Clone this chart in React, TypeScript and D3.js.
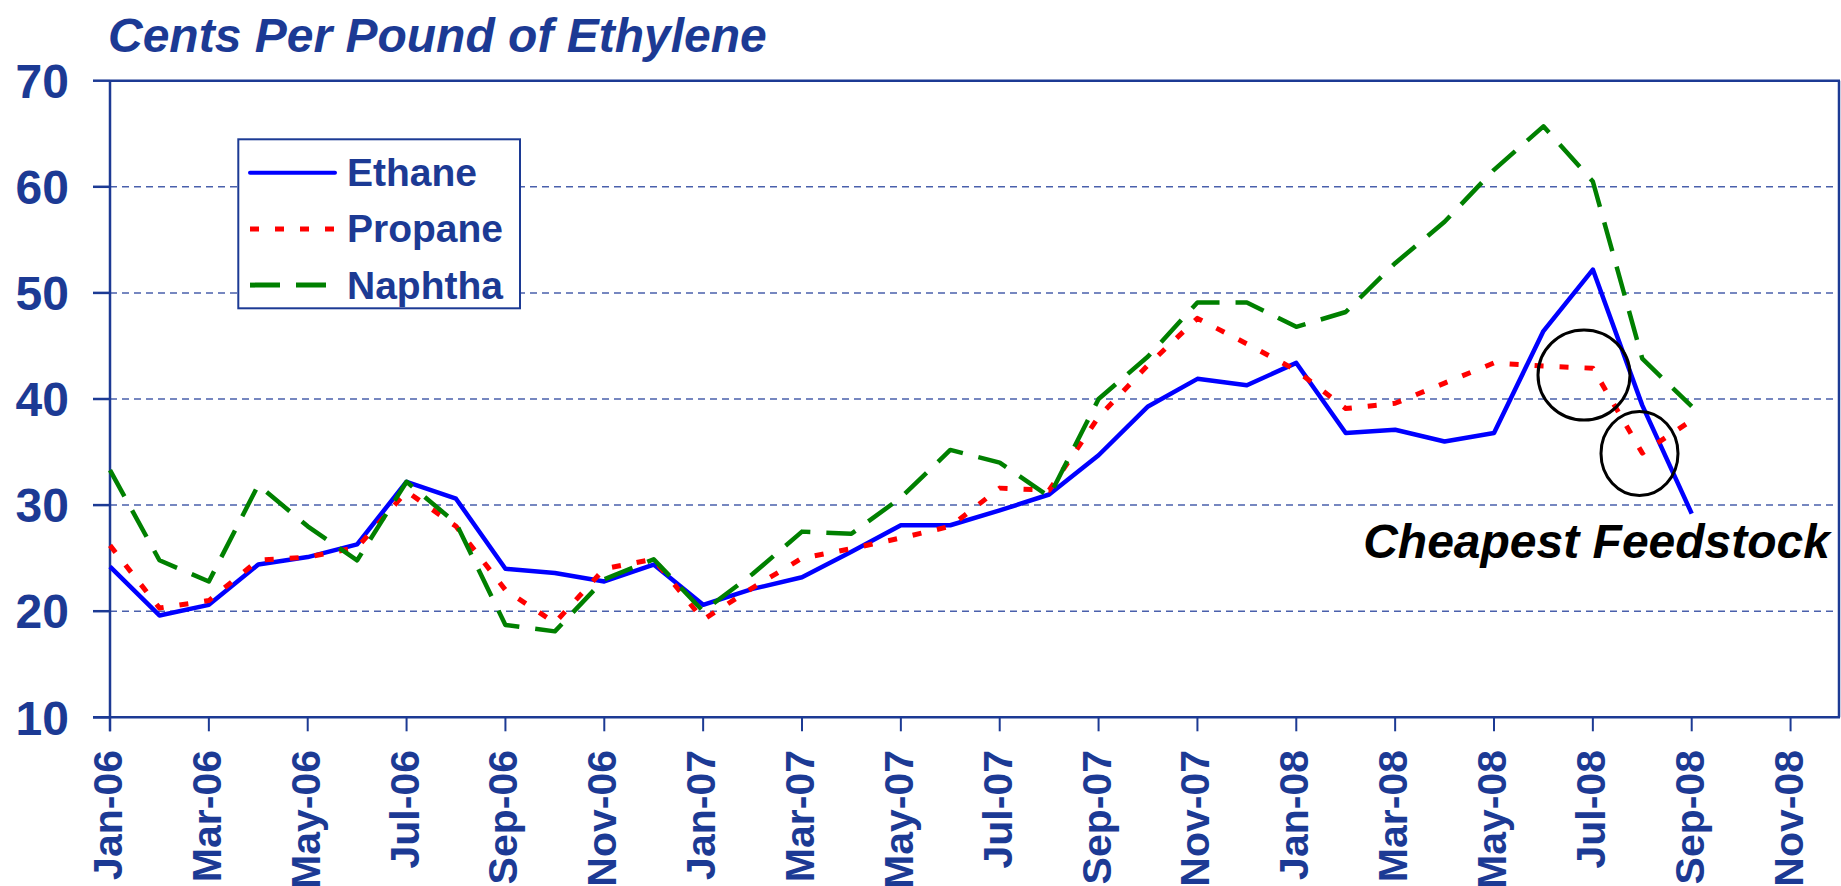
import React from "react";
import * as d3 from "d3";

const months: string[] = [
  "Jan-06","Feb-06","Mar-06","Apr-06","May-06","Jun-06","Jul-06","Aug-06","Sep-06","Oct-06","Nov-06","Dec-06",
  "Jan-07","Feb-07","Mar-07","Apr-07","May-07","Jun-07","Jul-07","Aug-07","Sep-07","Oct-07","Nov-07","Dec-07",
  "Jan-08","Feb-08","Mar-08","Apr-08","May-08","Jun-08","Jul-08","Aug-08","Sep-08",
];

const ethane: number[] = [
  24.2, 19.6, 20.6, 24.4, 25.1, 26.3, 32.2, 30.6, 24.0, 23.6, 22.8, 24.4,
  20.6, 22.1, 23.2, 25.6, 28.1, 28.1, 29.5, 31.0, 34.7, 39.3, 41.9, 41.3,
  43.4, 36.8, 37.1, 36.0, 36.8, 46.4, 52.2, 39.4, 29.2,
];

const propane: number[] = [
  26.2, 20.3, 21.0, 24.8, 25.1, 26.0, 31.3, 28.0, 22.0, 18.9, 24.0, 24.9,
  19.2, 22.2, 25.0, 25.9, 26.9, 28.0, 31.6, 31.4, 38.3, 43.2, 47.6, 45.2,
  42.7, 39.1, 39.6, 41.5, 43.4, 43.1, 42.9, 34.9, 38.0,
];

const naphtha: number[] = [
  33.3, 24.8, 22.8, 31.9, 28.0, 24.8, 32.2, 28.3, 18.7, 18.1, 23.0, 24.9,
  20.0, 23.5, 27.5, 27.3, 30.7, 35.2, 34.0, 30.8, 40.0, 44.0, 49.1, 49.1,
  46.8, 48.2, 52.8, 56.7, 61.6, 65.7, 60.5, 43.8, 39.3,
];

const xTickLabels: string[] = [
  "Jan-06","Mar-06","May-06","Jul-06","Sep-06","Nov-06",
  "Jan-07","Mar-07","May-07","Jul-07","Sep-07","Nov-07",
  "Jan-08","Mar-08","May-08","Jul-08","Sep-08","Nov-08",
];
const yTicks: number[] = [10, 20, 30, 40, 50, 60, 70];
const gridValues: number[] = [20, 30, 40, 50, 60];

const seriesNames: string[] = ["Ethane", "Propane", "Naphtha"];
const seriesColors: string[] = ["#0000FF", "#FF0000", "#008000"];
const seriesDash: (string | undefined)[] = [undefined, "9,16", "30,16"];
const seriesWidth: number[] = [4.5, 5, 4.5];

const TITLE = "Cents Per Pound of Ethylene";
const NOTE = "Cheapest Feedstock";

const W = 1841;
const H = 886;
const NAVY = "#1C3A94";
const FONT = "'Liberation Sans', Arial, Helvetica, sans-serif";

export default function App() {
  const x = d3.scaleLinear().domain([0, 35]).range([110, 1840]);
  const y = d3.scaleLinear().domain([10, 70]).range([717.3, 80.7]);
  const line = d3
    .line<number>()
    .x((_, i) => x(i))
    .y((d) => y(d));

  const data = [ethane, propane, naphtha];
  const x0 = x(0);
  const x1 = x(35);
  const yTop = y(70);
  const yBot = y(10);

  return (
    <svg
      width={W}
      height={H}
      style={{ position: "absolute", left: 0, top: 0, background: "#fff" }}
      fontFamily={FONT}
    >
      <rect x={0} y={0} width={W} height={H} fill="#fff" />
      {/* title */}
      <text x={108} y={51.5} fontSize={48} fontWeight="bold" fontStyle="italic" fill={NAVY}>
        {TITLE}
      </text>

      {/* gridlines */}
      {gridValues.map((v) => (
        <line
          key={"g" + v}
          x1={x0}
          x2={x1}
          y1={y(v)}
          y2={y(v)}
          stroke="#4A60AC"
          strokeWidth={1.5}
          strokeDasharray="7,5"
        />
      ))}

      {/* plot border */}
      <line x1={x0} x2={x1} y1={yTop} y2={yTop} stroke={NAVY} strokeWidth={2.5} />
      <line x1={x1 - 1} x2={x1 - 1} y1={yTop} y2={yBot} stroke={NAVY} strokeWidth={2.5} />
      <line x1={x0} x2={x0} y1={yTop} y2={yBot + 14} stroke={NAVY} strokeWidth={2.5} />
      <line x1={93} x2={x1} y1={yBot} y2={yBot} stroke={NAVY} strokeWidth={2.5} />

      {/* y ticks & labels */}
      {yTicks.map((v) => (
        <g key={"y" + v}>
          <line x1={93} x2={x0} y1={y(v)} y2={y(v)} stroke={NAVY} strokeWidth={2.5} />
          <text
            x={69}
            y={y(v)}
            dy="0.36em"
            textAnchor="end"
            fontSize={48}
            fontWeight="bold"
            fill={NAVY}
          >
            {v}
          </text>
        </g>
      ))}

      {/* x ticks & labels */}
      {xTickLabels.map((lab, k) => {
        const xi = x(k * 2);
        return (
          <g key={lab}>
            <line x1={xi} x2={xi} y1={yBot} y2={yBot + 14} stroke={NAVY} strokeWidth={2} />
            <text
              transform={`translate(${xi + 12},750) rotate(-90)`}
              textAnchor="end"
              fontSize={41}
              fontWeight="bold"
              fill={NAVY}
            >
              {lab}
            </text>
          </g>
        );
      })}

      {/* series */}
      {data.map((d, s) => (
        <path
          key={seriesNames[s]}
          d={line(d) || ""}
          fill="none"
          stroke={seriesColors[s]}
          strokeWidth={seriesWidth[s]}
          strokeDasharray={seriesDash[s]}
          strokeLinejoin="round"
        />
      ))}

      {/* annotations */}
      <ellipse cx={1584} cy={375} rx={46} ry={45} fill="none" stroke="#000" strokeWidth={3} />
      <ellipse cx={1639.5} cy={453.5} rx={38.5} ry={42} fill="none" stroke="#000" strokeWidth={3} />
      <text
        x={1830}
        y={558}
        textAnchor="end"
        fontSize={48}
        fontWeight="bold"
        fontStyle="italic"
        fill="#000"
      >
        {NOTE}
      </text>

      {/* legend */}
      <rect x={238.3} y={139.3} width={281.7} height={169} fill="#fff" stroke={NAVY} strokeWidth={2} />
      {seriesNames.map((name, s) => {
        const ly = 172.7 + s * 56.2;
        return (
          <g key={"l" + name}>
            <line
              x1={250}
              x2={335}
              y1={ly}
              y2={ly}
              stroke={seriesColors[s]}
              strokeWidth={s === 0 ? 4 : 5}
              strokeDasharray={seriesDash[s]}
              strokeLinecap={s === 0 ? "round" : "butt"}
            />
            <text x={347} y={ly + 13.5} fontSize={39} fontWeight="bold" fill={NAVY}>
              {name}
            </text>
          </g>
        );
      })}
    </svg>
  );
}
